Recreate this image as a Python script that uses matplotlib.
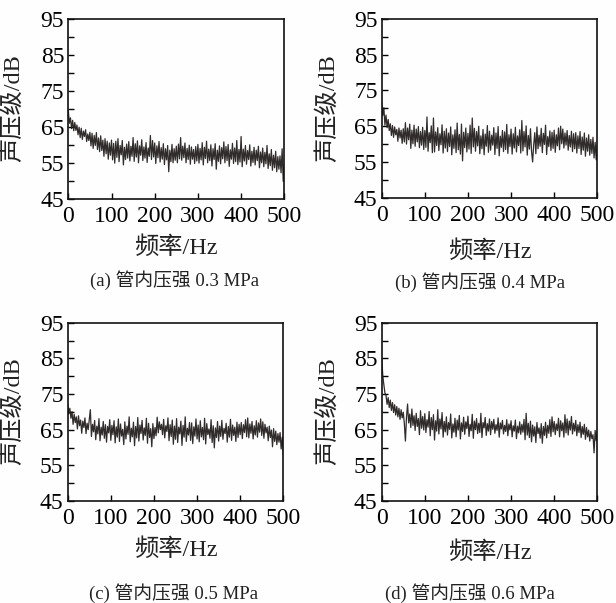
#!/usr/bin/env python3
"""Sound pressure level spectra for four in-pipe pressures (2x2 panels)."""

import matplotlib
matplotlib.use("Agg")
import matplotlib.pyplot as plt
import numpy as np

# frequency axis, 2.5 Hz step from 0 to 500 Hz
FREQ_STEP = 2.5

SPL_03 = [
    69.5, 66.0, 67.5, 64.5, 66.8, 63.9, 66.2, 64.0, 65.5, 62.8, 64.9, 62.0, 64.6, 61.5, 63.8, 62.3, 64.2, 60.9, 63.0, 61.2,
    63.5, 59.7, 63.2, 59.0, 62.6, 59.8, 63.4, 58.7, 61.9, 58.1, 62.5, 58.4, 61.3, 56.8, 61.7, 57.5, 61.0, 56.0, 60.5, 57.1,
    61.3, 55.8, 60.4, 54.9, 61.0, 56.5, 61.7, 55.3, 59.8, 57.2, 61.2, 54.4, 59.3, 55.9, 60.2, 56.3, 60.9, 55.5, 59.6, 56.8,
    62.0, 55.4, 60.3, 56.6, 61.1, 55.0, 59.7, 57.1, 61.4, 55.6, 59.4, 56.3, 60.6, 55.1, 59.1, 56.8, 62.6, 55.9, 61.2, 56.6,
    60.5, 54.8, 59.7, 56.4, 60.9, 55.2, 59.2, 56.0, 60.3, 54.5, 58.9, 55.8, 59.8, 52.5, 58.5, 55.3, 60.1, 55.0, 58.9, 55.7,
    59.6, 55.0, 60.2, 56.1, 62.0, 55.7, 59.6, 56.4, 60.5, 55.0, 59.0, 55.9, 59.9, 54.6, 59.4, 56.0, 58.7, 54.8, 59.5, 55.5,
    60.1, 54.9, 59.0, 55.8, 60.6, 54.4, 59.3, 56.2, 61.0, 55.0, 58.8, 55.6, 60.0, 54.1, 58.9, 55.9, 60.3, 53.2, 58.5, 55.4,
    59.7, 54.7, 59.2, 56.1, 60.8, 55.0, 59.5, 55.6, 60.1, 54.0, 58.6, 56.0, 60.4, 54.8, 59.1, 55.3, 61.2, 54.5, 58.7, 55.2,
    62.3, 53.9, 58.8, 55.5, 59.8, 54.6, 58.4, 55.9, 60.0, 54.1, 58.2, 55.1, 59.3, 54.4, 58.5, 55.6, 59.6, 53.6, 58.0, 55.0,
    59.1, 53.9, 57.9, 54.7, 59.8, 53.4, 57.5, 54.2, 58.7, 52.9, 57.1, 53.6, 58.2, 52.5, 56.7, 53.2, 56.9, 52.2, 58.9, 49.8,
    54.5,
]

SPL_04 = [
    71.5, 68.0, 70.2, 65.3, 68.1, 64.6, 66.9, 63.8, 65.7, 62.4, 65.2, 61.9, 64.8, 62.6, 64.1, 60.8, 64.5, 61.7, 63.9, 60.2,
    64.3, 60.6, 66.0, 60.0, 64.5, 61.2, 65.6, 58.8, 63.9, 60.1, 65.3, 59.4, 64.2, 60.6, 64.9, 59.0, 63.5, 59.7, 64.7, 58.5,
    63.8, 59.1, 67.6, 58.0, 63.2, 60.4, 65.1, 57.6, 67.3, 57.8, 63.4, 59.6, 64.6, 58.2, 62.9, 59.8, 65.4, 57.5, 63.6, 58.9,
    64.3, 57.9, 63.1, 59.3, 64.8, 57.0, 62.6, 58.8, 64.0, 57.6, 65.9, 58.4, 62.7, 57.2, 65.6, 55.3, 63.3, 59.0, 64.5, 57.8,
    63.0, 58.6, 65.3, 57.4, 67.3, 59.2, 64.4, 58.0, 63.5, 59.5, 65.0, 57.3, 62.3, 58.7, 64.1, 57.0, 62.8, 59.4, 65.2, 57.7,
    63.6, 58.3, 62.5, 59.7, 64.6, 57.1, 63.1, 58.8, 64.9, 56.7, 62.2, 59.1, 63.8, 57.9, 63.4, 58.5, 65.5, 57.4, 62.6, 59.3,
    64.2, 57.2, 62.9, 58.9, 64.7, 57.8, 62.3, 59.6, 64.0, 57.5, 66.6, 58.1, 63.5, 59.2, 65.1, 56.9, 62.4, 58.6, 64.3, 58.0,
    55.0, 59.8, 63.2, 57.3, 64.8, 58.7, 62.5, 59.4, 64.4, 57.6, 63.0, 59.9, 65.3, 57.1, 62.1, 59.3, 63.7, 58.2, 63.3, 58.8,
    63.9, 57.7, 62.6, 59.5, 64.5, 58.4, 65.0, 60.1, 64.2, 58.9, 63.1, 59.7, 63.8, 58.3, 62.4, 59.2, 63.6, 57.9, 62.9, 58.7,
    63.2, 57.5, 62.3, 58.8, 63.5, 57.1, 62.0, 58.3, 63.1, 56.6, 61.7, 58.0, 62.6, 56.9, 61.3, 57.4, 61.9, 56.1, 60.5, 55.6,
    59.6,
]

SPL_05 = [
    72.3, 69.4, 71.0, 68.2, 70.1, 66.5, 69.3, 67.0, 68.6, 65.2, 68.9, 66.1, 67.7, 64.0, 67.4, 65.6, 68.3, 63.9, 66.8, 65.0,
    67.9, 70.6, 63.1, 66.5, 64.4, 67.6, 62.2, 66.0, 63.8, 68.1, 61.9, 65.7, 63.5, 67.3, 62.6, 66.4, 61.5, 65.9, 64.1, 67.8,
    62.0, 66.2, 63.6, 67.5, 61.3, 65.8, 62.9, 68.0, 61.7, 66.6, 63.2, 65.1, 60.8, 67.2, 62.4, 66.0, 63.7, 68.6, 61.6, 65.4,
    63.0, 67.1, 60.5, 65.9, 62.7, 68.4, 61.8, 66.3, 63.9, 67.6, 62.1, 65.5, 63.4, 68.2, 61.2, 66.8, 62.8, 65.3, 60.2, 66.7,
    62.5, 65.6, 63.3, 68.5, 64.1, 67.2, 65.0, 66.5, 63.6, 67.9, 62.7, 66.1, 64.5, 68.3, 61.9, 66.4, 63.1, 67.7, 60.9, 66.0,
    62.3, 68.1, 61.4, 65.7, 63.8, 67.4, 60.6, 66.2, 62.9, 68.6, 61.7, 65.4, 63.5, 67.0, 62.0, 66.9, 61.1, 65.8, 63.2, 68.0,
    62.4, 66.3, 61.6, 67.5, 63.0, 65.6, 62.2, 68.2, 61.0, 66.7, 63.6, 65.2, 62.6, 67.8, 61.4, 66.1, 59.9, 65.5, 62.8, 67.3,
    61.8, 66.0, 63.1, 67.6, 62.3, 65.4, 63.9, 66.8, 61.5, 65.9, 62.9, 67.9, 62.0, 66.3, 63.4, 65.7, 61.7, 67.1, 62.8, 66.5,
    63.6, 67.0, 62.5, 66.4, 64.2, 67.8, 63.0, 68.3, 62.7, 66.6, 64.0, 67.3, 62.4, 66.1, 63.5, 67.5, 62.9, 66.9, 64.3, 68.0,
    63.4, 67.2, 62.6, 66.5, 64.1, 65.7, 61.9, 66.0, 62.8, 64.9, 60.2, 65.3, 61.7, 64.6, 60.8, 63.9, 61.5, 64.2, 59.6, 62.9,
    58.2,
]

SPL_06 = [
    85.0, 80.2, 77.6, 75.3, 74.6, 72.1, 74.0, 71.2, 73.3, 70.4, 72.6, 69.8, 72.0, 69.1, 71.5, 68.6, 71.0, 67.9, 70.6, 68.3,
    69.9, 66.7, 61.8, 68.5, 72.2, 66.9, 69.4, 65.6, 70.8, 66.2, 68.9, 64.8, 69.6, 65.9, 68.1, 63.6, 70.3, 65.4, 68.7, 64.9,
    69.5, 64.2, 67.8, 65.7, 70.1, 63.3, 68.4, 65.0, 69.2, 62.1, 67.5, 64.6, 70.6, 63.8, 68.0, 65.2, 69.8, 62.9, 67.3, 64.4,
    68.6, 63.5, 67.0, 65.1, 69.4, 62.7, 66.6, 64.3, 68.2, 63.0, 67.7, 64.9, 69.0, 62.4, 66.9, 64.5, 68.5, 63.7, 67.2, 65.3,
    68.8, 63.1, 66.5, 64.7, 69.3, 62.6, 67.4, 65.0, 68.1, 63.9, 66.8, 64.2, 69.6, 62.8, 67.0, 65.5, 68.4, 63.4, 66.7, 64.6,
    68.0, 63.6, 67.3, 65.1, 67.9, 64.0, 66.4, 64.8, 68.3, 62.9, 66.9, 65.2, 67.6, 63.8, 66.2, 64.5, 67.8, 63.3, 66.6, 64.9,
    67.5, 63.0, 66.1, 64.6, 67.7, 62.5, 66.0, 64.1, 67.2, 63.7, 66.5, 64.3, 67.9, 62.2, 69.6, 63.5, 66.8, 62.8, 67.4, 61.6,
    66.3, 63.2, 65.8, 61.4, 67.0, 63.9, 65.5, 62.6, 66.7, 61.2, 65.9, 63.4, 67.1, 62.7, 66.2, 64.0, 67.8, 63.1, 68.6, 64.4,
    67.3, 63.6, 66.6, 64.8, 68.2, 63.0, 67.5, 64.7, 66.9, 62.9, 69.2, 64.1, 68.0, 63.5, 67.4, 64.9, 68.7, 63.8, 66.8, 64.6,
    67.6, 63.3, 66.4, 64.2, 67.1, 62.8, 65.9, 63.7, 66.5, 62.3, 65.6, 63.0, 64.9, 61.8, 64.5, 62.5, 63.6, 58.5, 64.8, 61.9,
    64.5,
]

SERIES = [SPL_03, SPL_04, SPL_05, SPL_06]
CAPTIONS = [
    "(a) 管内压强 0.3 MPa",
    "(b) 管内压强 0.4 MPa",
    "(c) 管内压强 0.5 MPa",
    "(d) 管内压强 0.6 MPa",
]
X_LABEL = "频率/Hz"
Y_LABEL = "声压级/dB"
X_TICKS = [0, 100, 200, 300, 400, 500]
Y_TICKS = [45, 55, 65, 75, 85, 95]
Y_MINOR = [50, 60, 70, 80, 90]

W, H = 616, 603
# axes boxes in pixels: (left, top, right, bottom)
BOXES = [
    (68.3, 19.0, 284.3, 198.7),
    (381.7, 19.0, 597.3, 197.7),
    (67.7, 322.7, 283.3, 501.0),
    (381.7, 322.7, 597.3, 501.0),
]
# (ylabel x, ylabel y, xlabel y, caption x, caption y) in pixels
LABEL_POS = [
    (13, 108, 248, 175, 280),
    (328, 108, 252, 480, 282),
    (13, 411, 550, 174, 593),
    (328, 411, 553, 470, 593),
]

SERIF = ["Liberation Serif", "Noto Sans CJK SC"]
LINE_COLOR = "#262020"

fig = plt.figure(figsize=(W / 100, H / 100), dpi=100)
fig.patch.set_facecolor("#fefefe")

for spl, caption, box, lab in zip(SERIES, CAPTIONS, BOXES, LABEL_POS):
    left, top, right, bottom = box
    ax = fig.add_axes([left / W, 1 - bottom / H, (right - left) / W, (bottom - top) / H])
    ax.set_facecolor("#fefefe")
    freq = np.arange(len(spl)) * FREQ_STEP
    ax.plot(freq, spl, color=LINE_COLOR, linewidth=0.9, alpha=0.95)

    ax.set_xlim(0, 500)
    ax.set_ylim(45, 95)
    ax.set_xticks(X_TICKS)
    ax.set_yticks(Y_TICKS)
    ax.set_yticks(Y_MINOR, minor=True)
    ax.tick_params(axis="both", which="both", direction="in", length=4, width=1.0,
                   top=False, right=False, labelsize=17)
    ax.tick_params(axis="x", pad=5)
    ax.tick_params(axis="y", pad=3)
    for lbl in ax.get_xticklabels() + ax.get_yticklabels():
        lbl.set_family("Liberation Serif")
    for spine in ax.spines.values():
        spine.set_linewidth(1.2)
        spine.set_color("#111111")

    ycx, ycy, xly, capx, capy = lab
    cx = (left + right) / 2
    fig.text(ycx / W, 1 - ycy / H, Y_LABEL, rotation=90, ha="center", va="center",
             fontsize=17.5, family=SERIF, color="#222222")
    fig.text(cx / W, 1 - xly / H, X_LABEL, ha="center", va="center",
             fontsize=17.5, family=SERIF, color="#222222")
    fig.text(capx / W, 1 - capy / H, caption, ha="center", va="center",
             fontsize=13.5, family=SERIF, color="#222222")

fig.savefig("out.png", dpi=100, facecolor=fig.get_facecolor())
